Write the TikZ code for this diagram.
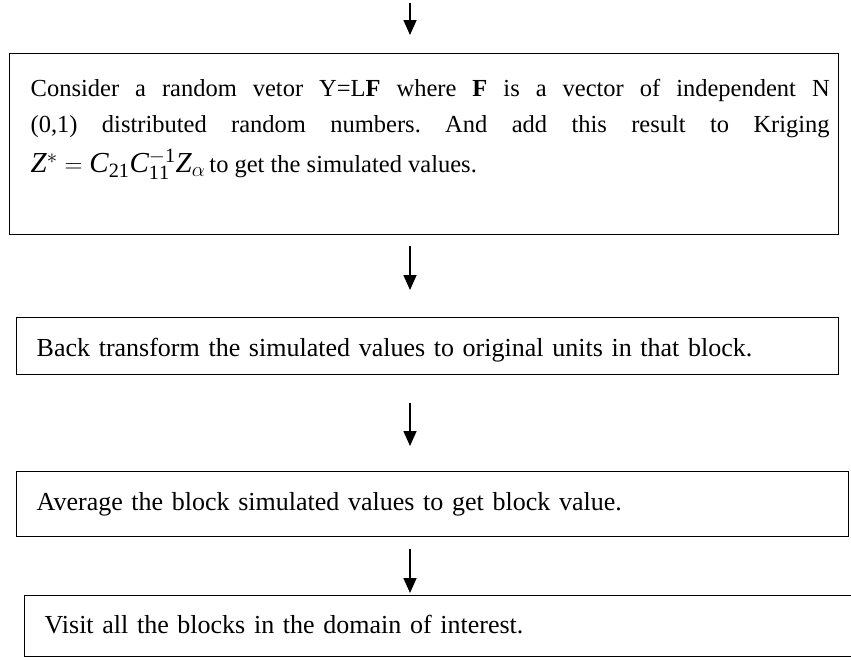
\documentclass[tikz,border=0pt]{standalone}
\usepackage{fontspec}
\setmainfont{Liberation Serif}
\usetikzlibrary{arrows.meta}
\frenchspacing
\begin{document}
\begin{tikzpicture}[x=1pt,y=-1pt,
  stepbox/.style={draw=black, line width=1.4pt, rectangle, anchor=north west},
  flow/.style={draw=black, line width=1.6pt, -{Triangle[length=15pt,width=13pt]}},
  bodyfont/.style={font=\fontsize{24.5}{36}\selectfont},
  stepfont/.style={font=\fontsize{26}{30}\selectfont, align=left, inner xsep=20pt}]
\useasboundingbox (0,0) rectangle (851,659);
\clip (0,0) rectangle (851,659);

% first step: simulation of the random vector
\node[stepbox, bodyfont, inner xsep=9pt, inner ysep=26pt] (sim) at (9,53)
  {\hspace*{12pt}\parbox[t][129pt][t]{799pt}{%
    \makebox[799pt][s]{Consider a random vetor Y=L\textbf{F} where \textbf{F} is a vector of independent N}\\
    \makebox[799pt][s]{(0,1) distributed random numbers. And add this result to Kriging}\\[4pt]
    {\fontsize{29}{36}\selectfont$\mathit{Z}^{*}=\mathit{C}_{\mathrm{21}}\mathit{C}_{\mathrm{11}}^{-\mathrm{1}}\mathit{Z}_{\alpha}$}\,to get the simulated values.}};

% remaining steps
\node[stepbox, stepfont, minimum height=57pt, text width=782pt, text height=21pt, text depth=0pt] (back) at (16,317)
  {Back transform the simulated values to original units in that block.};
\node[stepbox, stepfont, minimum height=65pt, text width=792pt, text height=18pt, text depth=5pt] (avg) at (16,471)
  {Average the block simulated values to get block value.};
\node[stepbox, stepfont, minimum height=61pt, text width=820pt, text height=19pt, text depth=4pt] (visit) at (24,595)
  {Visit all the blocks in the domain of interest.};

% connector end points
\coordinate (in0) at (410,3);
\coordinate (in1) at (410,35);
\coordinate (a2s) at (410,246);
\coordinate (a2e) at (410,290);
\coordinate (a3s) at (410,403);
\coordinate (a3e) at (410,446);
\coordinate (a4s) at (410,549);
\coordinate (a4e) at (410,593);

\draw[flow] (in0) -- (in1);
\draw[flow] (a2s) -- (a2e);
\draw[flow] (a3s) -- (a3e);
\draw[flow] (a4s) -- (a4e);
\end{tikzpicture}
\end{document}
